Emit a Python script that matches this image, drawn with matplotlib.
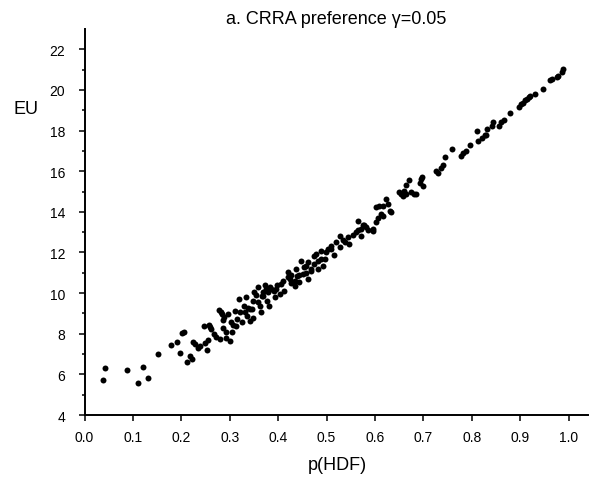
import matplotlib.pyplot as plt
import numpy as np

plt.rcParams['font.family'] = ['Liberation Sans', 'DejaVu Sans']

# points, p(HDF) vs EU
p_hdf = [0.038, 0.042, 0.087, 0.111, 0.120, 0.132, 0.152, 0.178, 0.191, 0.198,
         0.202, 0.205, 0.212, 0.218, 0.221, 0.223, 0.228, 0.235, 0.238, 0.247,
         0.248, 0.252, 0.254,
         0.257, 0.259, 0.262, 0.267, 0.271, 0.277, 0.279, 0.281, 0.283, 0.285,
         0.287, 0.289, 0.292, 0.293, 0.296, 0.300, 0.302, 0.304, 0.307, 0.310,
         0.312, 0.315, 0.319, 0.322, 0.325, 0.329, 0.331, 0.333, 0.336, 0.337,
         0.341, 0.342, 0.345, 0.348, 0.348, 0.351, 0.355, 0.358, 0.358, 0.362,
         0.365, 0.366,
         0.368, 0.369, 0.372, 0.374, 0.376, 0.379, 0.382, 0.384, 0.386, 0.391,
         0.393, 0.396, 0.398, 0.403, 0.406, 0.410, 0.413, 0.420, 0.420, 0.424,
         0.427, 0.427, 0.434, 0.434, 0.437, 0.438, 0.444, 0.444, 0.448, 0.451,
         0.454, 0.458, 0.458, 0.461, 0.462, 0.468, 0.468, 0.475, 0.475, 0.479,
         0.482, 0.482, 0.489, 0.489, 0.493, 0.496, 0.499, 0.503, 0.510, 0.510,
         0.516, 0.519, 0.527, 0.527, 0.533,
         0.537, 0.544, 0.547, 0.554, 0.561, 0.564, 0.565, 0.571, 0.571, 0.575,
         0.578, 0.581, 0.585, 0.595, 0.595, 0.602, 0.602, 0.606, 0.609, 0.613,
         0.616, 0.616, 0.623, 0.626, 0.630, 0.633, 0.650, 0.654, 0.657, 0.660,
         0.664, 0.664, 0.671, 0.674, 0.681, 0.685, 0.692, 0.695,
         0.698, 0.699, 0.726, 0.731, 0.736, 0.740, 0.744, 0.760, 0.778, 0.782,
         0.787, 0.797, 0.810, 0.812, 0.822, 0.827, 0.830, 0.831, 0.841, 0.844,
         0.856, 0.861,
         0.866, 0.879, 0.898, 0.901, 0.905, 0.909, 0.915, 0.918, 0.921, 0.931,
         0.948, 0.961, 0.965, 0.975, 0.979, 0.987, 0.988]

eu = [5.74, 6.33, 6.22, 5.58, 6.36, 5.81, 6.99, 7.45, 7.58, 7.05,
      8.03, 8.07, 6.60, 6.92, 6.76, 7.58, 7.50, 7.30, 7.41, 8.40,
      7.55, 7.22, 7.68,
      8.43, 8.35, 8.24, 7.99, 7.83, 9.19, 7.74, 9.06, 8.98, 8.27,
      8.70, 8.82, 8.07, 7.78, 8.99, 7.66, 8.57, 8.10, 8.45, 9.12,
      8.40, 8.73, 9.71, 9.09, 8.60, 9.38, 9.05, 9.80, 8.89, 9.25,
      8.65, 9.20, 9.22, 9.63, 8.80, 10.04, 9.90, 10.29, 9.55, 9.38,
      9.06, 9.88,
      9.88, 10.05, 10.40, 10.20, 9.63, 10.04, 9.38, 10.30, 10.20, 10.10,
      9.80, 10.21, 10.40, 9.96, 10.45, 10.62, 10.12, 11.03, 10.80, 10.70,
      10.50, 10.90, 10.37, 10.60, 11.19, 10.86, 10.54, 10.90, 11.60, 10.95,
      11.30, 11.35, 11.00, 11.52, 10.70, 11.11, 11.20, 11.44, 11.85, 11.93,
      11.20, 11.60, 11.68, 12.09, 11.35, 11.70, 12.01, 12.15, 12.18, 12.34,
      11.90, 12.50, 12.26, 12.83, 12.60,
      12.50, 12.75, 12.40, 12.87, 13.03, 13.57, 13.10, 13.16, 12.83, 13.33,
      13.33, 13.25, 13.10, 13.16, 13.08, 13.49, 14.23, 13.70, 14.31, 13.90,
      14.31, 13.82, 14.64, 14.40, 14.06, 13.98, 14.97, 14.89, 14.80, 15.05,
      15.33, 14.90, 15.59, 14.97, 14.89, 14.89, 15.40, 15.60,
      15.71, 15.27, 16.03, 15.90, 16.15, 16.32, 16.69, 17.10, 16.74, 16.90,
      17.02, 17.27, 17.97, 17.47, 17.65, 17.80, 17.76, 18.06, 18.25, 18.42,
      18.25, 18.40,
      18.50, 18.88, 19.16, 19.30, 19.35, 19.50, 19.57, 19.65, 19.70, 19.81,
      20.06, 20.47, 20.55, 20.64, 20.70, 20.90, 21.04]

fig = plt.figure(figsize=(5.99, 4.81), dpi=100)
ax = fig.add_axes([0.1412, 0.1351, 0.8404, 0.8025])

ax.plot(p_hdf, eu, 'o', color='black', markersize=4.3, markeredgewidth=0)

ax.set_xlim(0, 1.04)
ax.set_ylim(4, 23)
ax.set_xticks(np.arange(0, 1.01, 0.1))
ax.set_xticklabels(['%.1f' % t for t in np.arange(0, 1.01, 0.1)])
ax.set_yticks(range(4, 23, 2))
ax.set_yticks(range(5, 22, 2), minor=True)

ax.spines['top'].set_visible(False)
ax.spines['right'].set_visible(False)
ax.spines['left'].set_linewidth(1.4)
ax.spines['bottom'].set_linewidth(1.4)
ax.tick_params(which='major', direction='out', length=4.5, width=1.1, labelsize=10)
ax.tick_params(axis='x', pad=6)
ax.tick_params(axis='y', pad=9.5)
ax.tick_params(which='minor', direction='out', length=2.3, width=1.1)

fig.text(336 / 599, 1 - 20 / 481, 'a. CRRA preference \u03b3=0.05', ha='center', va='center', fontsize=13)
fig.text(337 / 599, 1 - 466 / 481, 'p(HDF)', ha='center', va='center', fontsize=13)
fig.text(26 / 599, 1 - 110 / 481, 'EU', ha='center', va='center', fontsize=13)

fig.savefig('out.png', dpi=100)
